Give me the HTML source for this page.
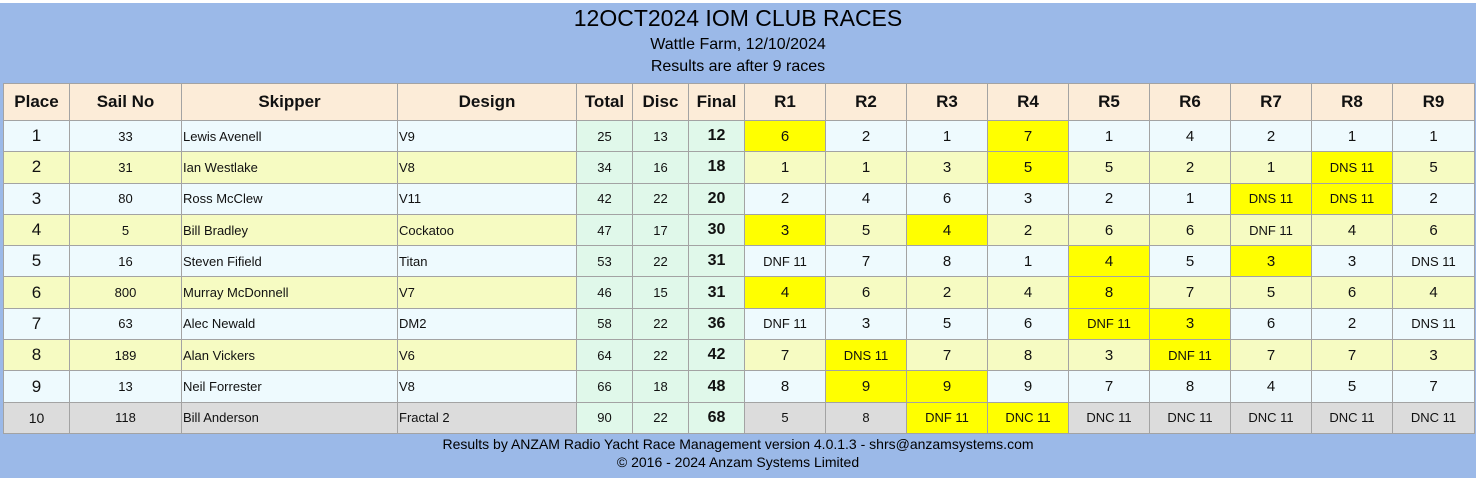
<!DOCTYPE html>
<html><head><meta charset="utf-8"><style>
body{margin:0;width:1478px;height:482px;background:#fff;font-family:"Liberation Sans",Arial,sans-serif;overflow:hidden;position:relative}
#bg{position:absolute;left:0;top:3px;width:1476px;height:475px;background:#9bb9e8}
.t{position:absolute;left:0;width:1476px;text-align:center;color:#000}
table{position:absolute;left:3px;top:83px;border-collapse:collapse;table-layout:fixed;width:1471px}
td,th{border:1px solid #a3a3a3;text-align:center;padding:0;color:#111;overflow:hidden;white-space:nowrap}
th{height:36px;background:#fcecd8;font-size:17px;font-weight:bold}
tr.r td{height:30.3px;font-size:15px}
tr.o td{background:#eefafe}
tr.e td{background:#f6fbc2}
tr.g td{background:#dcdcdc}
tr.r td.p{font-size:17px}
tr.r td.s{font-size:13px}
tr.r td.k{text-align:left;font-size:13px;padding-left:1px}
tr.r td.n{font-size:13px;background:#e0f8ea}
tr.r td.f{font-size:16px;font-weight:bold;background:#e0f8ea}
tr.r td.y{background:#ffff00}
tr.r td.d{font-size:13px}
tr.g td.p{font-size:14px}
</style></head><body>
<div id="bg"></div>
<div class="t" style="top:5px;font-size:23px">12OCT2024 IOM CLUB RACES</div>
<div class="t" style="top:36px;font-size:16px">Wattle Farm, 12/10/2024</div>
<div class="t" style="top:58px;font-size:16px">Results are after 9 races</div>
<table>
<colgroup><col style="width:66px"><col style="width:112px"><col style="width:216px"><col style="width:179px"><col style="width:56px"><col style="width:56px"><col style="width:56px"><col style="width:81px"><col style="width:81px"><col style="width:81px"><col style="width:81px"><col style="width:81px"><col style="width:81px"><col style="width:81px"><col style="width:81px"><col style="width:82px"></colgroup>
<tr><th>Place</th><th>Sail No</th><th>Skipper</th><th>Design</th><th>Total</th><th>Disc</th><th>Final</th><th>R1</th><th>R2</th><th>R3</th><th>R4</th><th>R5</th><th>R6</th><th>R7</th><th>R8</th><th>R9</th></tr>
<tr class="r o"><td class="p">1</td><td class="s">33</td><td class="k">Lewis Avenell</td><td class="k">V9</td><td class="n">25</td><td class="n">13</td><td class="f">12</td><td class="y">6</td><td>2</td><td>1</td><td class="y">7</td><td>1</td><td>4</td><td>2</td><td>1</td><td>1</td></tr>
<tr class="r e"><td class="p">2</td><td class="s">31</td><td class="k">Ian Westlake</td><td class="k">V8</td><td class="n">34</td><td class="n">16</td><td class="f">18</td><td>1</td><td>1</td><td>3</td><td class="y">5</td><td>5</td><td>2</td><td>1</td><td class="y d">DNS 11</td><td>5</td></tr>
<tr class="r o"><td class="p">3</td><td class="s">80</td><td class="k">Ross McClew</td><td class="k">V11</td><td class="n">42</td><td class="n">22</td><td class="f">20</td><td>2</td><td>4</td><td>6</td><td>3</td><td>2</td><td>1</td><td class="y d">DNS 11</td><td class="y d">DNS 11</td><td>2</td></tr>
<tr class="r e"><td class="p">4</td><td class="s">5</td><td class="k">Bill Bradley</td><td class="k">Cockatoo</td><td class="n">47</td><td class="n">17</td><td class="f">30</td><td class="y">3</td><td>5</td><td class="y">4</td><td>2</td><td>6</td><td>6</td><td class="d">DNF 11</td><td>4</td><td>6</td></tr>
<tr class="r o"><td class="p">5</td><td class="s">16</td><td class="k">Steven Fifield</td><td class="k">Titan</td><td class="n">53</td><td class="n">22</td><td class="f">31</td><td class="d">DNF 11</td><td>7</td><td>8</td><td>1</td><td class="y">4</td><td>5</td><td class="y">3</td><td>3</td><td class="d">DNS 11</td></tr>
<tr class="r e"><td class="p">6</td><td class="s">800</td><td class="k">Murray McDonnell</td><td class="k">V7</td><td class="n">46</td><td class="n">15</td><td class="f">31</td><td class="y">4</td><td>6</td><td>2</td><td>4</td><td class="y">8</td><td>7</td><td>5</td><td>6</td><td>4</td></tr>
<tr class="r o"><td class="p">7</td><td class="s">63</td><td class="k">Alec Newald</td><td class="k">DM2</td><td class="n">58</td><td class="n">22</td><td class="f">36</td><td class="d">DNF 11</td><td>3</td><td>5</td><td>6</td><td class="y d">DNF 11</td><td class="y">3</td><td>6</td><td>2</td><td class="d">DNS 11</td></tr>
<tr class="r e"><td class="p">8</td><td class="s">189</td><td class="k">Alan Vickers</td><td class="k">V6</td><td class="n">64</td><td class="n">22</td><td class="f">42</td><td>7</td><td class="y d">DNS 11</td><td>7</td><td>8</td><td>3</td><td class="y d">DNF 11</td><td>7</td><td>7</td><td>3</td></tr>
<tr class="r o"><td class="p">9</td><td class="s">13</td><td class="k">Neil Forrester</td><td class="k">V8</td><td class="n">66</td><td class="n">18</td><td class="f">48</td><td>8</td><td class="y">9</td><td class="y">9</td><td>9</td><td>7</td><td>8</td><td>4</td><td>5</td><td>7</td></tr>
<tr class="r g"><td class="p">10</td><td class="s">118</td><td class="k">Bill Anderson</td><td class="k">Fractal 2</td><td class="n">90</td><td class="n">22</td><td class="f">68</td><td class="d">5</td><td class="d">8</td><td class="y d">DNF 11</td><td class="y d">DNC 11</td><td class="d">DNC 11</td><td class="d">DNC 11</td><td class="d">DNC 11</td><td class="d">DNC 11</td><td class="d">DNC 11</td></tr>
</table>
<div class="t" style="top:436px;font-size:14px">Results by ANZAM Radio Yacht Race Management version 4.0.1.3 - shrs@anzamsystems.com</div>
<div class="t" style="top:454px;font-size:14px">© 2016 - 2024 Anzam Systems Limited</div>
</body></html>
